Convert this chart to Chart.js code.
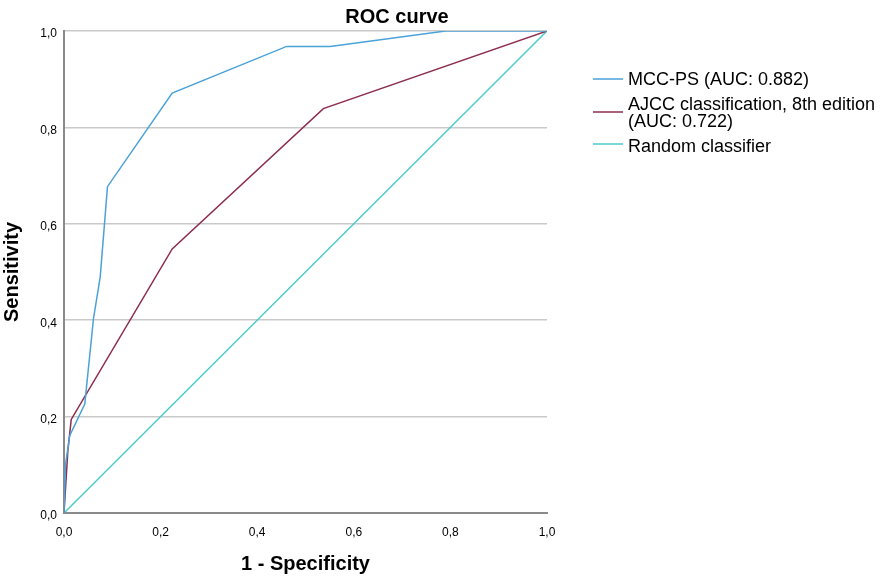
<!DOCTYPE html>
<html>
<head>
<meta charset="utf-8">
<script src="https://cdn.jsdelivr.net/npm/chart.js@4/dist/chart.umd.min.js"></script>
<style>
  html, body { margin: 0; padding: 0; background: #fff; }
  #wrap { width: 886px; height: 580px; position: relative; }
</style>
</head>
<body>
<div id="wrap"><canvas id="graficoRoc"></canvas></div>
<script>
const fprMcc = [0, 0.003, 0.012, 0.043, 0.061, 0.075, 0.090, 0.224, 0.461, 0.551, 0.79, 1]
const tprMcc = [0, 0.10, 0.161, 0.226, 0.403, 0.49, 0.677, 0.871, 0.968, 0.968, 1, 1]

const fprAjcc = [0, 0.008, 0.015, 0.224, 0.537, 1]
const tprAjcc = [0, 0.13, 0.194, 0.548, 0.839, 1]

const fprRandom = [0, 1]
const tprRandom = [0, 1]

const rotulos = [
    ['MCC-PS (AUC: 0.882)'],
    ['AJCC classification, 8th edition', '(AUC: 0.722)'],
    ['Random classifier']
]
const cores = ['#4aa2d8', '#8c2d4f', '#4ccccc']
const marcasEixo = [0, 0.2, 0.4, 0.6, 0.8, 1]

function montaPontos(xs, ys) {
    return xs.map((x, i) => ({ x: x, y: ys[i] }))
}

const fonte = '"Liberation Sans", Arial, sans-serif'

const textosExtras = {
    id: 'textosExtras',
    afterDraw(chart) {
        const ctx = chart.ctx
        ctx.save()
        ctx.fillStyle = '#000'
        ctx.textAlign = 'center'
        ctx.textBaseline = 'middle'
        ctx.font = 'bold 20px ' + fonte
        ctx.fillText('ROC curve', 397, 17)

        // legenda
        const linhasY = [79, 112, 144]
        const textosY = [[80], [105, 122], [147]]
        ctx.font = '18px ' + fonte
        ctx.textAlign = 'left'
        ctx.lineWidth = 1.5
        rotulos.forEach((rot, i) => {
            ctx.strokeStyle = cores[i]
            ctx.beginPath()
            ctx.moveTo(593, linhasY[i])
            ctx.lineTo(623, linhasY[i])
            ctx.stroke()
            rot.forEach((linha, j) => {
                ctx.fillText(linha, 628, textosY[i][j])
            })
        })
        ctx.restore()
    }
}

const elementoGrafico = document.querySelector('#graficoRoc')

const graficoRoc = new Chart(elementoGrafico, {
    type: 'scatter',
    data: {
        datasets: [
            { label: rotulos[0].join(' '), data: montaPontos(fprMcc, tprMcc), borderColor: cores[0] },
            { label: rotulos[1].join(' '), data: montaPontos(fprAjcc, tprAjcc), borderColor: cores[1] },
            { label: rotulos[2].join(' '), data: montaPontos(fprRandom, tprRandom), borderColor: cores[2] }
        ].map(ds => Object.assign(ds, {
            showLine: true,
            borderWidth: 1.5,
            pointRadius: 0,
            pointHoverRadius: 0,
            tension: 0,
            fill: false
        }))
    },
    options: {
        responsive: true,
        maintainAspectRatio: false,
        animation: false,
        layout: { padding: { top: 31, right: 339, bottom: 0, left: 0 } },
        plugins: {
            legend: { display: false },
            title: { display: false },
            tooltip: { enabled: false }
        },
        scales: {
            x: {
                type: 'linear',
                min: 0,
                max: 1,
                afterFit: (escala) => { escala.height = 67 },
                afterBuildTicks: (escala) => { escala.ticks = marcasEixo.map(v => ({ value: v })) },
                ticks: {
                    padding: 12,
                    color: '#000',
                    font: { family: fonte, size: 12 },
                    maxRotation: 0,
                    callback: (v) => v.toFixed(1).replace('.', ',')
                },
                grid: { drawOnChartArea: false, drawTicks: false },
                border: { color: '#8a8a8a', width: 2 },
                title: {
                    display: true,
                    text: '1 - Specificity',
                    color: '#000',
                    font: { family: fonte, size: 20, weight: 'bold' },
                    padding: { top: 0, bottom: 4 }
                }
            },
            y: {
                type: 'linear',
                min: 0,
                max: 1,
                afterFit: (escala) => { escala.width = 64 },
                afterBuildTicks: (escala) => { escala.ticks = marcasEixo.map(v => ({ value: v })) },
                ticks: {
                    padding: 7,
                    labelOffset: 3,
                    color: '#000',
                    font: { family: fonte, size: 12 },
                    callback: (v) => v.toFixed(1).replace('.', ',')
                },
                grid: { color: '#cacaca', lineWidth: 1.5, drawTicks: false },
                border: { color: '#8a8a8a', width: 2 },
                title: {
                    display: true,
                    text: 'Sensitivity',
                    color: '#000',
                    font: { family: fonte, size: 20, weight: 'bold' },
                    padding: { top: 0, bottom: 0 }
                }
            }
        }
    },
    plugins: [textosExtras]
})
</script>
</body>
</html>
